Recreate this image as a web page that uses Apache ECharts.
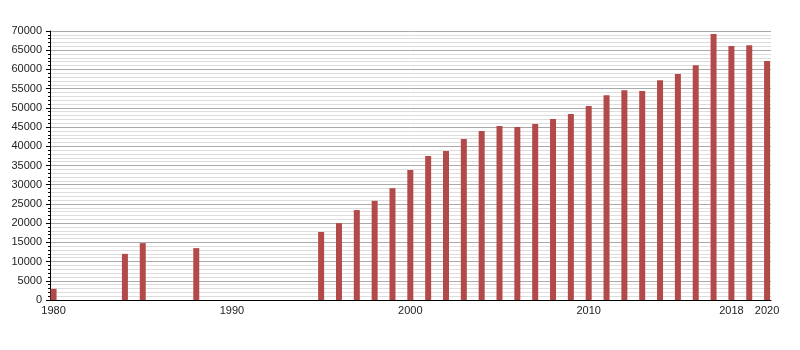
<!DOCTYPE html>
<html>
<head>
<meta charset="utf-8">
<script src="https://cdn.jsdelivr.net/npm/echarts@6/dist/echarts.min.js"></script>
<style>html,body{margin:0;padding:0;background:#fff}#c{width:800px;height:350px}</style>
</head>
<body>
<div id="c"></div>
<script>
const years = [1980, 1984, 1985, 1988, 1995, 1996, 1997, 1998, 1999, 2000, 2001, 2002, 2003, 2004, 2005, 2006, 2007, 2008, 2009, 2010, 2011, 2012, 2013, 2014, 2015, 2016, 2017, 2018, 2019, 2020];
const values = [2900, 12000, 14800, 13500, 17700, 20000, 23400, 25800, 29100, 33800, 37500, 38800, 41900, 44000, 45300, 45000, 45800, 47100, 48400, 50500, 53300, 54600, 54400, 57200, 58800, 61100, 69200, 66100, 66300, 62200];
const xTickLabels = [1980, 1990, 2000, 2010, 2018, 2020];

const chart = echarts.init(document.getElementById('c'), null, {renderer: 'canvas'});
const font = 'Liberation Sans, Arial, sans-serif';
chart.setOption({
  animation: false,
  backgroundColor: '#fff',
  grid: {left: 50, right: 29, top: 31, bottom: 50, containLabel: false},
  xAxis: {
    type: 'value', min: 1979.8, max: 2020.22,
    axisLine: {show: true, lineStyle: {color: '#000', width: 1}},
    axisTick: {show: false},
    splitLine: {show: false},
    axisLabel: {customValues: xTickLabels, color: '#222', fontSize: 11, fontFamily: font, margin: 5, formatter: v => String(v)}
  },
  yAxis: {
    type: 'value', min: 0, max: 70000, interval: 5000,
    axisLine: {show: true, lineStyle: {color: '#000', width: 1}},
    axisTick: {show: true, length: 4, lineStyle: {color: '#000'}},
    minorTick: {show: true, splitNumber: 5, length: 2, lineStyle: {color: '#000'}},
    splitLine: {show: true, lineStyle: {color: '#aaa', width: 1}},
    minorSplitLine: {show: true, lineStyle: {color: '#ddd', width: 1}},
    axisLabel: {color: '#222', fontSize: 11, fontFamily: font, margin: 8, formatter: v => String(v)}
  },
  series: [{
    type: 'bar',
    data: years.map((y, i) => [y, values[i]]),
    barWidth: 6,
    itemStyle: {color: '#b34a4a'}
  }]
});
</script>
</body>
</html>
